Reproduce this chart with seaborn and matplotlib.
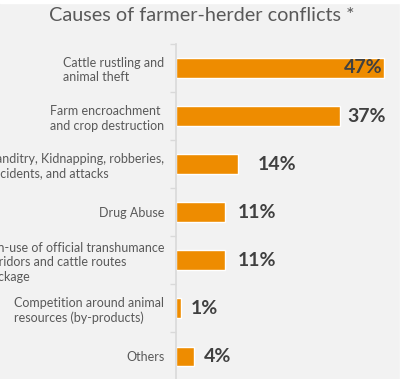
import matplotlib.pyplot as plt
import matplotlib.patches as mpatches
import numpy as np
import pandas as pd
import seaborn as sns

# %% data
causes = [
    "Cattle rustling and\nanimal theft",
    "Farm encroachment\nand crop destruction",
    "Banditry, Kidnapping, robberies,\naccidents, and attacks",
    "Drug Abuse",
    "Non-use of official transhumance\ncorridors and cattle routes\nblockage",
    "Competition around animal\nresources (by-products)",
    "Others",
]
shares = [47, 37, 14, 11, 11, 1, 4]
share_labels = ["47%", "37%", "14%", "11%", "11%", "1%", "4%"]
title = "Causes of farmer-herder conflicts *"

df = pd.DataFrame({"cause": causes, "share": shares})

# %% styling
BG = "#f2f2f2"
ORANGE = "#ee8c00"
TXT = "#595959"
VAL = "#404040"

sns.set_theme(style="white")
plt.rcParams["font.family"] = ["Lato", "DejaVu Sans"]

fig = plt.figure(figsize=(4.04, 3.79), dpi=100, facecolor=BG)
# white margins of the slide crop
fig.patches.append(mpatches.Rectangle((0, 0.992), 1, 0.01, transform=fig.transFigure,
                                      color="white", zorder=-1))
fig.patches.append(mpatches.Rectangle((0.991, 0), 0.01, 1, transform=fig.transFigure,
                                      color="white", zorder=-1))

ax = fig.add_axes([0.436, -0.003, 0.548, 0.887])
ax.set_facecolor(BG)
sns.barplot(data=df, x="share", y="cause", color=ORANGE, width=0.4,
            saturation=1, ax=ax)
ax.set_xlim(0, 50)
ax.set_ylim(6.5, -0.5)

# value labels (offset in pt from bar end; first one sits inside the bar)
pads = [-1.5, 5, 14, 9, 9, 7, 7]
for bar, lab, pad in zip(ax.patches, share_labels, pads):
    y = bar.get_y() + bar.get_height() / 2
    ax.annotate(lab, (bar.get_width(), y), xytext=(pad, 0),
                textcoords="offset points", va="center",
                ha="right" if pad < 0 else "left",
                fontsize=14, fontweight="bold", color=VAL)

# axes look
for s in ["top", "right", "bottom"]:
    ax.spines[s].set_visible(False)
ax.spines["left"].set_color("#d9d9d9")
ax.spines["left"].set_linewidth(1.2)
ax.set_xticks([])
ax.set_xlabel("")
ax.set_ylabel("")
ax.set_yticks(np.arange(-0.5, 7, 1), minor=True)
ax.tick_params(axis="y", which="minor", length=4, width=1, color="#d9d9d9", left=True)
ax.tick_params(axis="y", which="major", length=0, pad=8.5, labelsize=9, labelcolor=TXT)
for t in ax.get_yticklabels():
    t.set_multialignment("left")
    t.set_linespacing(1.25)

fig.text(0.5, 0.958, title, ha="center", va="center", fontsize=14.3, color=TXT)

fig.savefig("out.png", dpi=100, facecolor=BG)
